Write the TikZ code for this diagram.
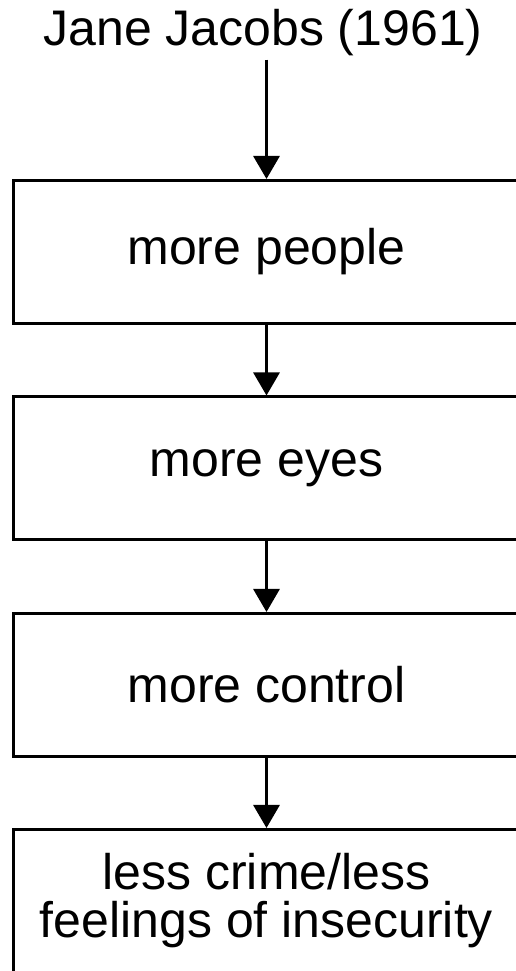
\documentclass[tikz,border=0pt]{standalone}
\usepackage{fontspec}
\setmainfont{Liberation Sans}
\usetikzlibrary{arrows.meta}
\tikzset{
  heading/.style={font=\fontsize{50}{48}\selectfont, inner sep=0pt},
  stage/.style={draw, line width=3pt, minimum width=506pt, minimum height=143pt, inner sep=0pt, align=center, font=\fontsize{50}{48}\selectfont},
  flow/.style={-{Triangle[length=23pt,width=26pt]}, line width=3pt}
}

\begin{document}
\begin{tikzpicture}[x=1pt,y=1pt]
\useasboundingbox (0,0) rectangle (516,971);
\clip (0,0) rectangle (516,971);

\node[heading, anchor=base] (jacobs) at (263,925) {Jane Jacobs (1961)};

\node[stage] (people) at (266.5,719) {more people};
\node[stage] (eyes) at (266.5,502.5) {more eyes};
\node[stage] (control) at (266.5,286) {more control};
\node[stage] (outcome) at (266.5,70) {less crime/less\\feelings of insecurity};

\draw[flow, shorten <=3pt] (jacobs.south -| people.north) -- (people.north);
\draw[flow] (people) -- (eyes);
\draw[flow] (eyes) -- (control);
\draw[flow] (control) -- (outcome);

\end{tikzpicture}
\end{document}
